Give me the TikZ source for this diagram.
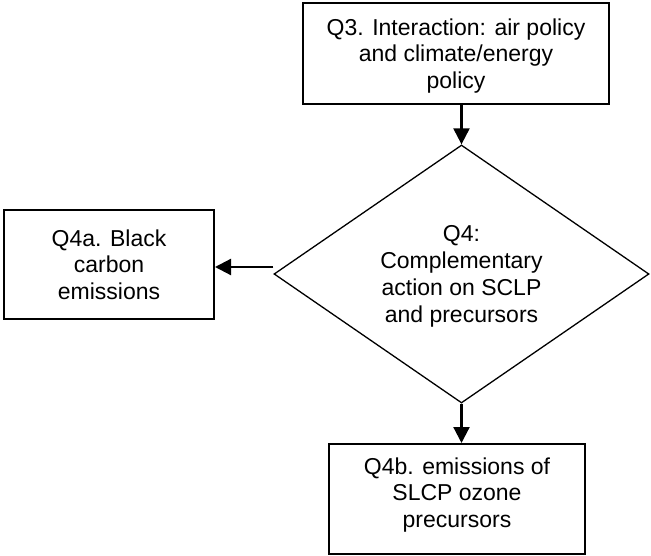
\documentclass[tikz,border=0pt]{standalone}
\usepackage{fontspec}
\setmainfont{Liberation Sans}
\usetikzlibrary{shapes.geometric,arrows.meta}
\begin{document}
\begin{tikzpicture}[x=1pt,y=-1pt,
  box/.style={draw,line width=2pt,rectangle,align=center,inner sep=0pt,
    font=\fontsize{23}{26.7}\selectfont},
  dec/.style={draw,line width=1.3pt,diamond,align=center,inner sep=0pt,
    aspect=1.453,minimum width=375pt,minimum height=258pt,
    font=\fontsize{23}{26.7}\selectfont},
  arr/.style={line width=2.2pt,-{Triangle[length=16pt,width=16pt]}}]
\useasboundingbox (0,0) rectangle (651,556);
\node[box,minimum width=306pt,minimum height=101pt,text depth=-3.2pt] (q3) at (456,53.5)
  {Q3. Interaction: air policy\\and climate/energy\\policy};
\node[dec,text depth=-1.2pt] (q4) at (461.5,274)
  {Q4:\\Complementary\\action on SCLP\\and precursors};
\node[box,minimum width=210pt,minimum height=109pt] (q4a) at (109,264.5)
  {Q4a. Black\\carbon\\emissions};
\node[box,minimum width=256pt,minimum height=110pt,text depth=12.8pt] (q4b) at (457,499)
  {Q4b. emissions of\\SLCP ozone\\precursors};
\draw[arr] (q3.south -| q4.north) -- (q4.north);
\draw[arr] (q4.south) -- (q4.south |- q4b.north);
\draw[arr] ([yshift=7pt]q4.west) -- ([yshift=7pt]q4.west -| q4a.east);
\end{tikzpicture}
\end{document}
